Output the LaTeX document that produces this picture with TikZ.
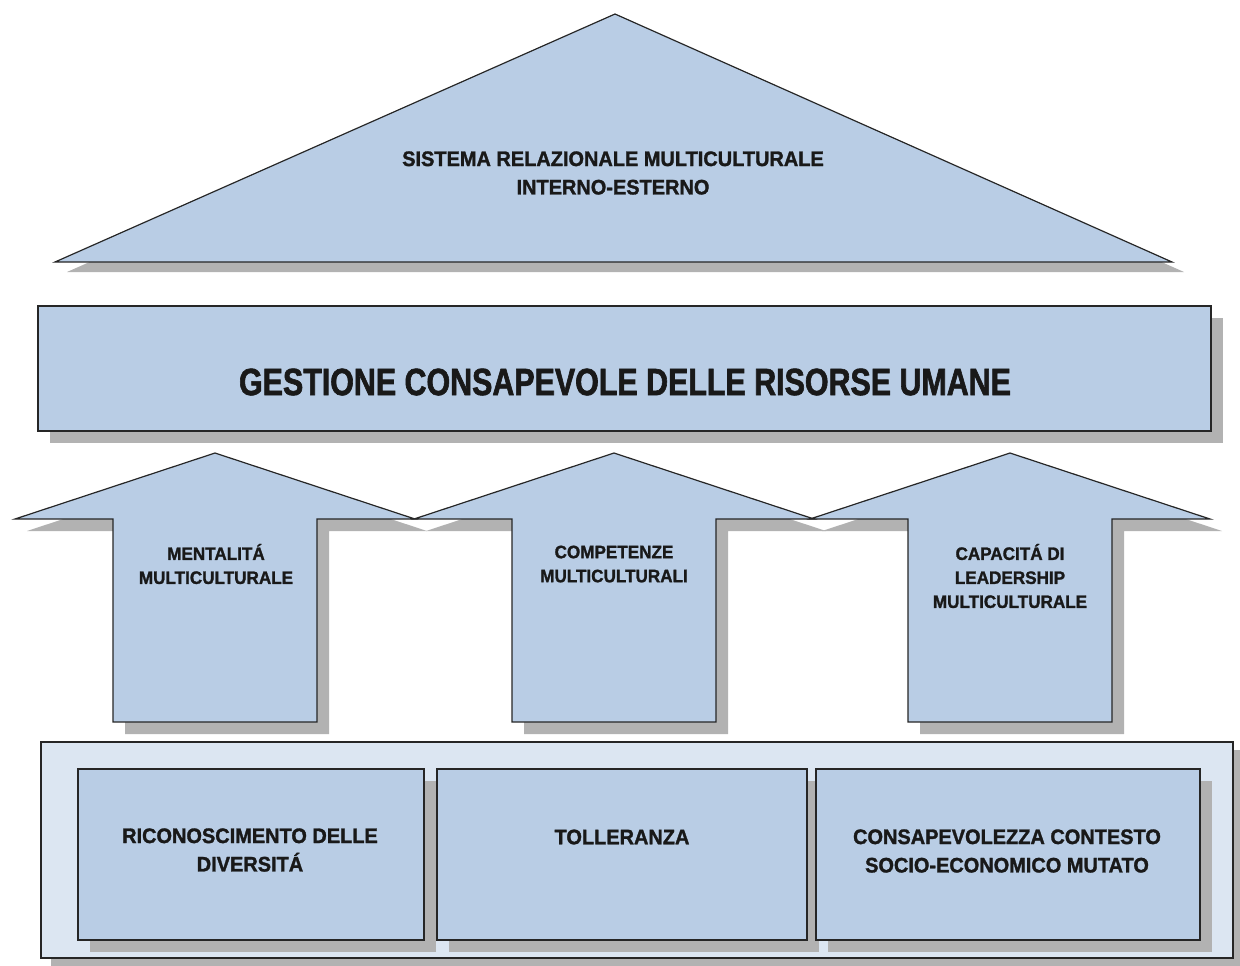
\documentclass[tikz,border=0pt]{standalone}
\usepackage{fontspec}
\newfontfamily\narrowfont{Liberation Sans}[FakeStretch=0.8, BoldFeatures={FakeBold=1.6}]
\newfontfamily\capfont{Liberation Sans}[FakeStretch=0.95, BoldFeatures={FakeBold=1.4}]
\usetikzlibrary{positioning}

\definecolor{boxblue}{RGB}{185,205,229}
\definecolor{paleblue}{RGB}{220,230,242}
\definecolor{shadowgray}{RGB}{178,178,178}

\begin{document}
\begin{tikzpicture}
    [
        x=0.5pt, y=-0.5pt,
        panel/.style={draw=black!85, fill=boxblue, line width=0.6pt},
        backpanel/.style={draw=black!85, fill=paleblue, line width=0.6pt},
        shade/.style={fill=shadowgray, draw=none},
        caption/.style={font=\capfont\bfseries\fontsize{9}{12}\selectfont, align=center, inner sep=0pt, text=black!90},
        bigcaption/.style={font=\capfont\bfseries\fontsize{10.5}{14.2}\selectfont, align=center, inner sep=0pt, text=black!90}
    ]
        \useasboundingbox (0,0) rectangle (1240,965);
        % =========================================================================
        % ROOF
        % =========================================================================
        \fill [shade] (67,272) -- (627,24) -- (1184,272) -- cycle;
        \draw [panel] (55,262) -- (615,14) -- (1172,262) -- cycle;
        \node [bigcaption] (system) at (613,173) {SISTEMA RELAZIONALE MULTICULTURALE\\INTERNO-ESTERNO};

        % =========================================================================
        % BAND
        % =========================================================================
        \fill [shade] (50,318) rectangle (1223,443);
        \draw [panel] (38,306) rectangle (1211,431);
        \node [font=\narrowfont\bfseries\fontsize{19}{22}\selectfont, inner sep=0pt, text=black!90] (hrm) at (625,382) {GESTIONE CONSAPEVOLE DELLE RISORSE UMANE};

        % =========================================================================
        % PILLARS (up arrows)
        % =========================================================================
        \foreach \cx in {215,614,1010} {
            \fill [shade, xshift=6pt, yshift=-6pt] (\cx-200,519) -- (\cx,453) -- (\cx+200,519)
                -- (\cx+102,519) -- (\cx+102,722) -- (\cx-102,722) -- (\cx-102,519) -- cycle;
        }
        \foreach \cx in {215,614,1010} {
            \draw [panel] (\cx-200,519) -- (\cx,453) -- (\cx+200,519)
                -- (\cx+102,519) -- (\cx+102,722) -- (\cx-102,722) -- (\cx-102,519) -- cycle;
        }
        \node [caption] (mindset) at (216,564) {MENTALIT\'A\\MULTICULTURALE};
        \node [caption] (skills) at (614,564) {COMPETENZE\\MULTICULTURALI};
        \node [caption] (leader) at (1010,576) {CAPACIT\'A DI\\LEADERSHIP\\MULTICULTURALE};

        % =========================================================================
        % FOUNDATION
        % =========================================================================
        \fill [shade] (51,750) rectangle (1243,968);
        \draw [backpanel] (41,742) rectangle (1233,958);
        % --- inner blocks ---
        \fill [shade] (90,781) rectangle (436,952);
        \fill [shade] (449,781) rectangle (819,952);
        \fill [shade] (828,781) rectangle (1212,952);
        \draw [panel] (78,769) rectangle (424,940);
        \draw [panel] (437,769) rectangle (807,940);
        \draw [panel] (816,769) rectangle (1200,940);
        \node [bigcaption] (diversity) at (250,850) {RICONOSCIMENTO DELLE\\DIVERSIT\'A};
        \node [bigcaption] (tolerance) at (622,837) {TOLLERANZA};
        \node [bigcaption] (context) at (1007,851) {CONSAPEVOLEZZA CONTESTO\\SOCIO-ECONOMICO MUTATO};
    \end{tikzpicture}
\end{document}
